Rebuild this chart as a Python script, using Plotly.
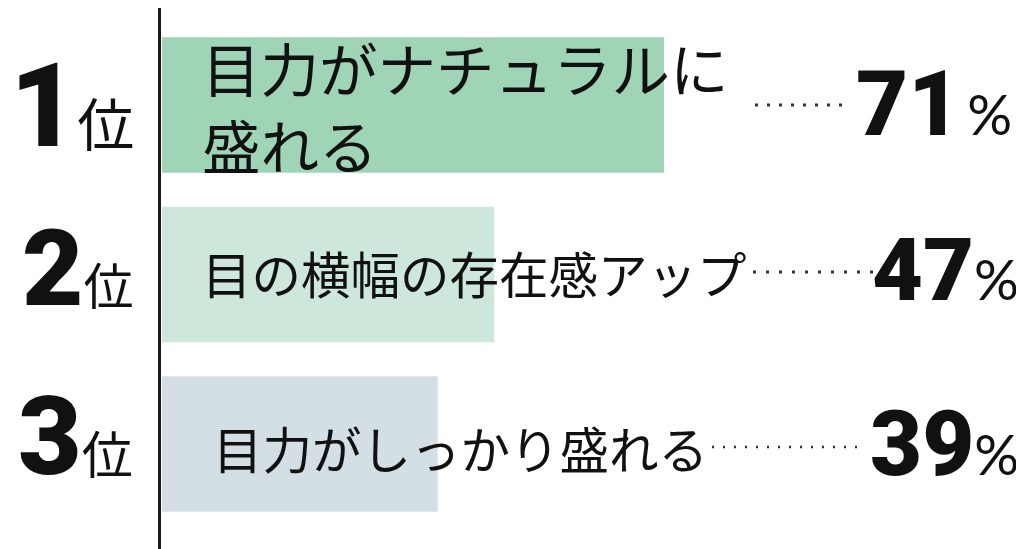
import plotly.graph_objects as go

# ---- data ----
ranks = ["1", "2", "3"]
labels = ["目力がナチュラルに<br>盛れる", "目の横幅の存在感アップ", "目力がしっかり盛れる"]
values = [71, 47, 39]

# ---- styles / layout (pixel positions given in the 1024x549 window frame) ----
bar_colors = ["#9fd4b7", "#cde7da", "#d3dfe5"]
OFF = 8                      # page body margin
W, H = 1024 - OFF, 549 - OFF
X0PX = 162 - OFF             # pixel where bars start
SCALE = 7.07                 # px per percent unit
ROW_PX = [105, 274.5, 444]   # row centres (window px)
STEP = 169.5

def px2x(px):
    return (px - OFF - X0PX) / SCALE

def fx(px):
    return (px - OFF) / W

def py2y(py):
    return (py - ROW_PX[0]) / STEP

label_x_px = [200, 200, 211]
label_sizes = [58.5, 49.5, 49.5]
label_line_px = [[66.5, 143], [272], [447]]
rank_fonts = [("Roboto", 900), ("Roboto", 900), ("Roboto", 900)]
rank_digit_sizes = [116, 106, 110]
rank_kanji_sizes = [57, 50, 51]
rank_right_px = [136, 135, 135]
rank_yshift = [-1, 6, 8]
pct_digit_sizes = [90, 88, 90]
pct_gap = ["\u2009", "", ""]
pct_right_px = [1014, 1021, 1021]
pct_yshift = [1, 5, 0]
leaders = [(755, 842, 105, "3px,9px", 3), (753, 876, 272, "3px,10px", 3), (712, 866, 447, "2px,9px", 2.5)]

fig = go.Figure()
fig.add_trace(go.Bar(
    x=values, y=list(range(len(values))), orientation="h",
    width=0.8, marker=dict(color=bar_colors, line=dict(width=0)),
    hoverinfo="skip",
))

annotations = []
for i, (r, lab, v) in enumerate(zip(ranks, labels, values)):
    for line, ly in zip(lab.split("<br>"), label_line_px[i]):
        annotations.append(dict(
            x=fx(label_x_px[i]), xref="paper", y=py2y(ly), yref="y",
            text=line, showarrow=False, xanchor="left", yanchor="middle", align="left",
            font=dict(family="Noto Sans CJK JP", size=label_sizes[i], color="#111"),
        ))
    fam, wt = rank_fonts[i]
    annotations.append(dict(
        x=fx(rank_right_px[i]), xref="paper", y=i, yref="y", yshift=rank_yshift[i],
        text=(f"<span style='font-family:{fam};font-weight:{wt};font-size:{rank_digit_sizes[i]}px'>{r}</span>"
              f"位"),
        showarrow=False, xanchor="right", yanchor="middle",
        font=dict(family="Noto Sans CJK JP", size=rank_kanji_sizes[i], color="#111"),
    ))
    annotations.append(dict(
        x=fx(pct_right_px[i]), xref="paper", y=i, yref="y", yshift=pct_yshift[i],
        text=(f"<span style='font-family:Roboto;font-weight:900;font-size:{pct_digit_sizes[i]}px'>{v}</span>"
              f"{pct_gap[i]}<span style='font-family:Lato;font-weight:400'>%</span>"),
        showarrow=False, xanchor="right", yanchor="middle",
        font=dict(family="Lato", size=56, color="#111"),
    ))

shapes = [dict(type="line", xref="x", yref="paper", x0=px2x(159.5), x1=px2x(159.5), y0=0, y1=1,
               line=dict(color="#1a1a1a", width=3))]
for a, b, yy, dash, w in leaders:
    shapes.append(dict(type="line", xref="x", yref="y", x0=px2x(a), x1=px2x(b), y0=py2y(yy), y1=py2y(yy),
                       line=dict(color="#333", width=w, dash=dash)))

fig.update_layout(
    width=W, height=H, margin=dict(l=0, r=0, t=0, b=0),
    paper_bgcolor="white", plot_bgcolor="white", showlegend=False,
    xaxis=dict(range=[px2x(OFF), px2x(1024)], visible=False, fixedrange=True),
    yaxis=dict(range=[py2y(549), py2y(OFF)], visible=False, fixedrange=True),
    annotations=annotations, shapes=shapes, bargap=0.2,
)
fig.write_html("out.html", config={"displayModeBar": False})
